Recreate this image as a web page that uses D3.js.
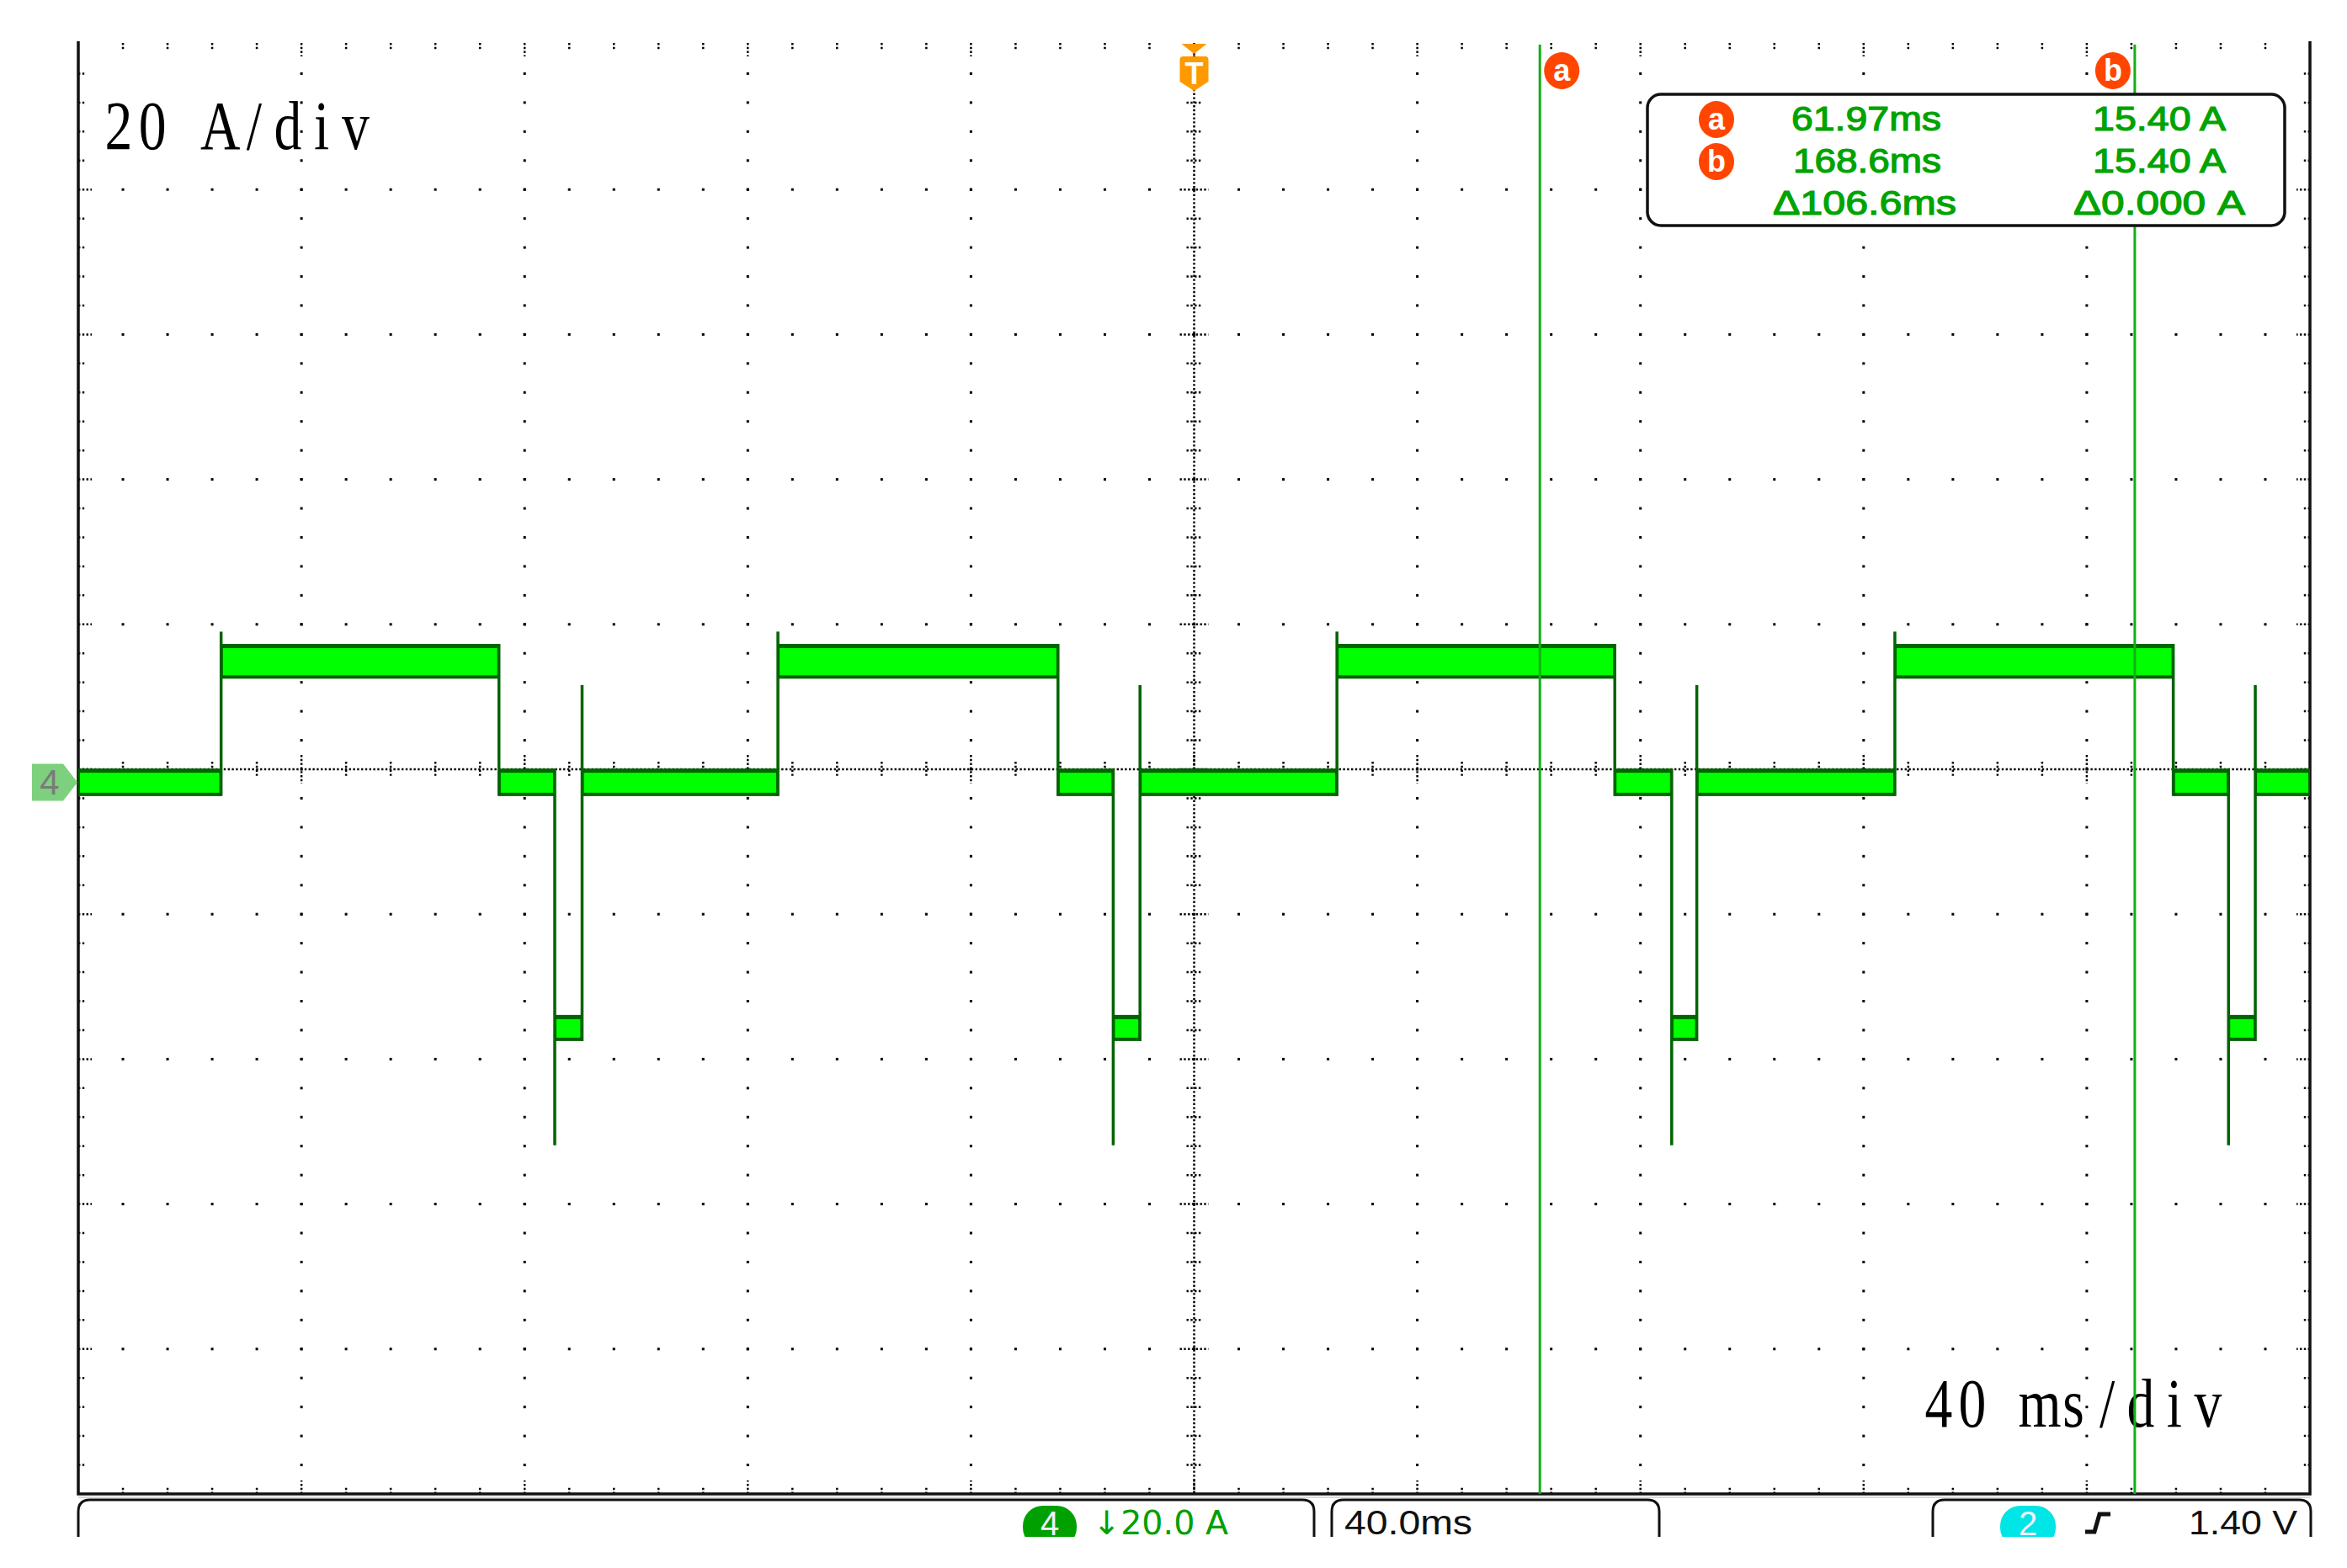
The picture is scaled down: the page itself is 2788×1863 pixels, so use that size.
<!DOCTYPE html>
<html><head><meta charset="utf-8">
<script src="https://cdn.jsdelivr.net/npm/d3@7"></script>
<style>html,body{margin:0;padding:0;background:#fff}svg{display:block}</style>
</head><body>
<svg id="c" width="2788" height="1863"></svg>
<script>
// ---------------- data ----------------
const timeDomainMs = [-200, 200];      // 10 div x 40 ms, trigger at centre
const msPerDiv = 40;
const ampPerDiv = 20;                   // 20 A/div
const ch4CentreA = 1.8;                 // value at centre graticule line (ch4 offset)
const riseTimes     = [-174.4, -74.6, 25.6, 125.6];   // ms
const fallTimes     = [-124.6, -24.4, 75.4, 175.5];
const negStartTimes = [-114.6, -14.5, 85.6, 185.4];
const negEndTimes   = [-109.7,  -9.7, 90.1, 190.2];
const levelNames      = ["zero", "high", "neg"];
const levelCentres    = [0.0, 16.7, -33.9];   // A
const levelHalfWidths = [1.9, 2.4, 1.8];      // A (noise envelope)
const riseSpikes     = [20.8, 20.8, 20.8, 20.8];     // A
const negStartSpikes = [-50.1, -50.1, -50.1, -50.1];
const negEndSpikes   = [13.4, 13.4, 13.4, 13.4];
const cursorNames  = ["a", "b"];
const cursorTimes  = [61.97, 168.6];                 // ms
const readTimes    = ["61.97ms", "168.6ms", "\u0394106.6ms"];
const readValues   = ["15.40 A", "15.40 A", "\u03940.000 A"];
const vScaleLabel = "20 A/div";
const hScaleLabel = "40 ms/div";
const ch4Label = "\u219320.0 A";
const timebaseLabel = "40.0ms";
const trigLabel = "1.40 V";

// ---------------- layout ----------------
const L = 93, R = 2744, T = 53, B = 1775;
const svg = d3.select("#c");
svg.append("rect").attr("width", 2788).attr("height", 1863).attr("fill", "#fff");

const x = d3.scaleLinear().domain(timeDomainMs).range([L, R]);
const yA = d3.scaleLinear().domain([ch4CentreA - 5 * ampPerDiv, ch4CentreA + 5 * ampPerDiv]).range([B, T]);
const gy = d3.scaleLinear().domain([-5, 5]).range([B, T]);
const gx = d3.scaleLinear().domain([-5, 5]).range([L, R]);

const majorDiv = d3.range(-5, 5.001, 1);
const minorDiv = d3.range(-5, 5.001, 0.2).map(v => Math.round(v * 10) / 10);

// ---------------- graticule ----------------
const grid = svg.append("g");
const dot = 3;
majorDiv.filter(k => Math.abs(k) > 0 && Math.abs(k) < 5).forEach(k => {
  minorDiv.filter(m => Math.abs(m) < 5).forEach(m => {
    grid.append("rect").attr("x", gx(m) - dot / 2).attr("y", gy(k) - dot / 2)
      .attr("width", dot).attr("height", dot).attr("fill", "#000");
    grid.append("rect").attr("x", gx(k) - dot / 2).attr("y", gy(m) - dot / 2)
      .attr("width", dot).attr("height", dot).attr("fill", "#000");
  });
});
const dash = "2.4,2.4";
grid.append("line").attr("x1", L).attr("x2", R).attr("y1", gy(0)).attr("y2", gy(0))
  .attr("stroke", "#000").attr("stroke-width", 2.5).attr("stroke-dasharray", dash);
grid.append("line").attr("x1", gx(0)).attr("x2", gx(0)).attr("y1", T).attr("y2", B)
  .attr("stroke", "#000").attr("stroke-width", 2.5).attr("stroke-dasharray", dash);
const isMajor = m => Math.abs(m - Math.round(m)) < 1e-6;
minorDiv.filter(m => Math.abs(m) < 5).forEach(m => {
  const len = isMajor(m) ? 17 : 9;
  grid.append("line").attr("x1", gx(m)).attr("x2", gx(m)).attr("y1", gy(0) - len).attr("y2", gy(0) + len)
    .attr("stroke", "#000").attr("stroke-width", 2.5).attr("stroke-dasharray", dash);
  grid.append("line").attr("y1", gy(m)).attr("y2", gy(m)).attr("x1", gx(0) - len).attr("x2", gx(0) + len)
    .attr("stroke", "#000").attr("stroke-width", 2.5).attr("stroke-dasharray", dash);
  const bl = isMajor(m) ? 16 : 9;
  grid.append("line").attr("y1", gy(m)).attr("y2", gy(m)).attr("x1", L).attr("x2", L + bl)
    .attr("stroke", "#000").attr("stroke-width", 2.5).attr("stroke-dasharray", dash);
  grid.append("line").attr("y1", gy(m)).attr("y2", gy(m)).attr("x1", R).attr("x2", R - bl)
    .attr("stroke", "#000").attr("stroke-width", 2.5).attr("stroke-dasharray", dash);
  grid.append("line").attr("x1", gx(m)).attr("x2", gx(m)).attr("y1", T - 2).attr("y2", T - 2 + bl)
    .attr("stroke", "#000").attr("stroke-width", 2.5).attr("stroke-dasharray", dash);
  grid.append("line").attr("x1", gx(m)).attr("x2", gx(m)).attr("y1", B).attr("y2", B - bl)
    .attr("stroke", "#000").attr("stroke-width", 2.5).attr("stroke-dasharray", dash);
});
grid.append("path").attr("d", `M${L},${T - 4}V${B}H${R}V${T - 4}`)
  .attr("fill", "none").attr("stroke", "#111").attr("stroke-width", 3.5);
grid.append("line").attr("x1", L).attr("x2", R).attr("y1", B + 4).attr("y2", B + 4)
  .attr("stroke", "#ccc").attr("stroke-width", 1.5);

// ---------------- scale labels (half-width serif, fixed pitch, one text each) ----------------
function monoLabel(str, firstCentre, baseline, pitch) {
  const sx = 0.8;
  const font = "Liberation Serif, serif", fs = 82;
  const tmp = svg.append("text").attr("font-family", font).attr("font-size", fs);
  const xsPos = str.split("").map((ch, i) => {
    tmp.text(ch === " " ? "\u00a0" : ch);
    const w = tmp.node().getComputedTextLength();
    return ((firstCentre + i * pitch) / sx - w / 2).toFixed(2);
  });
  tmp.remove();
  svg.append("text").attr("transform", `translate(0,${baseline}) scale(${sx},1)`)
    .attr("x", xsPos.join(" ")).attr("y", 0).text(str)
    .attr("font-family", font).attr("font-size", fs).attr("fill", "#000");
}
monoLabel(vScaleLabel, 141, 177, 40.2);
monoLabel(hScaleLabel, 2303, 1695, 40);

// ---------------- waveform ----------------
const segs = [];
let t0 = timeDomainMs[0];
riseTimes.forEach((r, i) => {
  segs.push({ a: t0, b: r, lv: 0 });
  segs.push({ a: r, b: fallTimes[i], lv: 1 });
  segs.push({ a: fallTimes[i], b: negStartTimes[i], lv: 0 });
  segs.push({ a: negStartTimes[i], b: negEndTimes[i], lv: 2 });
  t0 = negEndTimes[i];
});
segs.push({ a: t0, b: timeDomainMs[1], lv: 0 });

const wave = svg.append("g");
const dark = "#006400", bright = "#00ff00";
const bandTop = d => yA(levelCentres[d.lv] + levelHalfWidths[d.lv]);
const bandBot = d => yA(levelCentres[d.lv] - levelHalfWidths[d.lv]);
wave.selectAll("rect.env").data(segs).join("rect").attr("class", "env")
  .attr("x", d => x(d.a)).attr("width", d => x(d.b) - x(d.a))
  .attr("y", bandTop).attr("height", d => bandBot(d) - bandTop(d)).attr("fill", dark);
wave.selectAll("rect.core").data(segs).join("rect").attr("class", "core")
  .attr("x", d => x(d.a) + 2).attr("width", d => Math.max(0, x(d.b) - x(d.a) - 4))
  .attr("y", d => bandTop(d) + 5).attr("height", d => bandBot(d) - bandTop(d) - 9)
  .attr("fill", bright);

const edges = [];
riseTimes.forEach((r, i) => {
  edges.push({ t: r, y1: levelCentres[0] - levelHalfWidths[0], y2: riseSpikes[i] });
  edges.push({ t: fallTimes[i], y1: levelCentres[1] + levelHalfWidths[1], y2: levelCentres[0] - levelHalfWidths[0] });
  edges.push({ t: negStartTimes[i], y1: levelCentres[0] + levelHalfWidths[0], y2: negStartSpikes[i] });
  edges.push({ t: negEndTimes[i], y1: levelCentres[2] - levelHalfWidths[2], y2: negEndSpikes[i] });
});
wave.selectAll("line.edge").data(edges).join("line").attr("class", "edge")
  .attr("x1", d => x(d.t)).attr("x2", d => x(d.t))
  .attr("y1", d => yA(d.y1)).attr("y2", d => yA(d.y2))
  .attr("stroke", "#006400").attr("stroke-width", 3.5);

// ch4 ground marker
const g0 = yA(0);
svg.append("path").attr("d", `M38,${g0 - 22}H75L92,${g0}L75,${g0 + 22}H38Z`).attr("fill", "#7dd07d");
svg.append("text").attr("x", 59).attr("y", g0 + 15).attr("text-anchor", "middle").text("4")
  .attr("font-family", "Liberation Sans, sans-serif").attr("font-size", 42).attr("fill", "#7a7a7a");

// ---------------- cursors ----------------
const curColor = "#13b013";
const orange = "#ff4500";
svg.selectAll("line.cur").data(cursorTimes).join("line").attr("class", "cur")
  .attr("x1", d => x(d)).attr("x2", d => x(d)).attr("y1", T).attr("y2", B)
  .attr("stroke", curColor).attr("stroke-width", 3);
const labSide = [1, -1];
cursorTimes.forEach((t, i) => {
  const cx = x(t) + labSide[i] * 26, cy = 84;
  svg.append("ellipse").attr("cx", cx).attr("cy", cy).attr("rx", 21).attr("ry", 22).attr("fill", orange);
  svg.append("text").attr("x", cx).attr("y", cy + 12).attr("text-anchor", "middle").text(cursorNames[i])
    .attr("font-family", "Liberation Sans, sans-serif").attr("font-weight", "bold").attr("font-size", 36).attr("fill", "#fff");
});

// trigger marker
const tx = x(0);
svg.append("path").attr("d", `M${tx - 15},52H${tx + 15}L${tx},64Z`).attr("fill", "#ff9900");
svg.append("path").attr("d", `M${tx - 13},67H${tx + 13}Q${tx + 17},67 ${tx + 17},71V97L${tx},108L${tx - 17},97V71Q${tx - 17},67 ${tx - 13},67Z`).attr("fill", "#ff9900");
svg.append("text").attr("x", tx).attr("y", 100).attr("text-anchor", "middle").text("T")
  .attr("font-family", "Liberation Sans, sans-serif").attr("font-weight", "bold").attr("font-size", 36).attr("fill", "#fff");

// readout box
svg.append("rect").attr("x", 1957).attr("y", 112).attr("width", 757).attr("height", 156).attr("rx", 16)
  .attr("fill", "#fff").attr("stroke", "#111").attr("stroke-width", 3.5);
const rowBase = [155, 205, 255];
const timeW = [178, 176, 218], valW = [158, 158, 204];
const timeX = [2128, 2130, 2106], valX = [2486, 2486, 2463];
const green = "#00a300";
readTimes.forEach((s, i) => {
  svg.append("text").attr("x", timeX[i]).attr("y", rowBase[i]).text(s)
    .attr("font-family", "Liberation Sans Narrow, Liberation Sans, sans-serif").attr("font-size", 40)
    .attr("stroke", green).attr("stroke-width", 1.2)
    .attr("textLength", timeW[i]).attr("lengthAdjust", "spacingAndGlyphs").attr("fill", green);
  svg.append("text").attr("x", valX[i]).attr("y", rowBase[i]).text(readValues[i])
    .attr("font-family", "Liberation Sans Narrow, Liberation Sans, sans-serif").attr("font-size", 40)
    .attr("stroke", green).attr("stroke-width", 1.2)
    .attr("textLength", valW[i]).attr("lengthAdjust", "spacingAndGlyphs").attr("fill", green);
});
cursorNames.forEach((n, i) => {
  const cy = rowBase[i] - 13;
  svg.append("ellipse").attr("cx", 2039).attr("cy", cy).attr("rx", 21).attr("ry", 22).attr("fill", orange);
  svg.append("text").attr("x", 2039).attr("y", cy + 12).attr("text-anchor", "middle").text(n)
    .attr("font-family", "Liberation Sans, sans-serif").attr("font-weight", "bold").attr("font-size", 36).attr("fill", "#fff");
});

// ---------------- status bar ----------------
svg.append("clipPath").attr("id", "sb").append("rect")
  .attr("x", 0).attr("y", B + 2).attr("width", 2788).attr("height", 1826 - B - 2);
const sb = svg.append("g").attr("clip-path", "url(#sb)");
const boxes = [[L, 1561], [1582, 1971], [2296, 2745]];
boxes.forEach(([a, b]) => {
  sb.append("path").attr("d", `M${a},1840V1796Q${a},1782 ${a + 14},1782H${b - 14}Q${b},1782 ${b},1796V1840`)
    .attr("fill", "none").attr("stroke", "#111").attr("stroke-width", 3);
});
sb.append("rect").attr("x", 1215).attr("y", 1789).attr("width", 64).attr("height", 50).attr("rx", 24).attr("fill", "#00a000");
sb.append("text").attr("x", 1247).attr("y", 1824).attr("text-anchor", "middle").text("4")
  .attr("font-family", "Liberation Sans, sans-serif").attr("font-size", 40).attr("fill", "#f0f0ff");
sb.append("text").attr("x", 1298).attr("y", 1823).text(ch4Label)
  .attr("font-family", "DejaVu Sans, sans-serif").attr("font-size", 39)
  .attr("textLength", 161).attr("lengthAdjust", "spacingAndGlyphs").attr("fill", "#00a000");
sb.append("text").attr("x", 1597).attr("y", 1823).text(timebaseLabel)
  .attr("font-family", "Liberation Sans Narrow, Liberation Sans, sans-serif").attr("font-size", 40)
  .attr("textLength", 152).attr("lengthAdjust", "spacingAndGlyphs").attr("fill", "#111");
sb.append("rect").attr("x", 2376).attr("y", 1789).attr("width", 66).attr("height", 50).attr("rx", 24).attr("fill", "#00e5e5");
sb.append("text").attr("x", 2409).attr("y", 1824).attr("text-anchor", "middle").text("2")
  .attr("font-family", "Liberation Sans, sans-serif").attr("font-size", 40).attr("fill", "#f0f0ff");
sb.append("path").attr("d", "M2477,1820H2488L2494,1799H2507").attr("fill", "none")
  .attr("stroke", "#111").attr("stroke-width", 5);
sb.append("text").attr("x", 2600).attr("y", 1823).text(trigLabel)
  .attr("font-family", "Liberation Sans Narrow, Liberation Sans, sans-serif").attr("font-size", 40)
  .attr("textLength", 129).attr("lengthAdjust", "spacingAndGlyphs").attr("fill", "#111");
</script>
</body></html>
